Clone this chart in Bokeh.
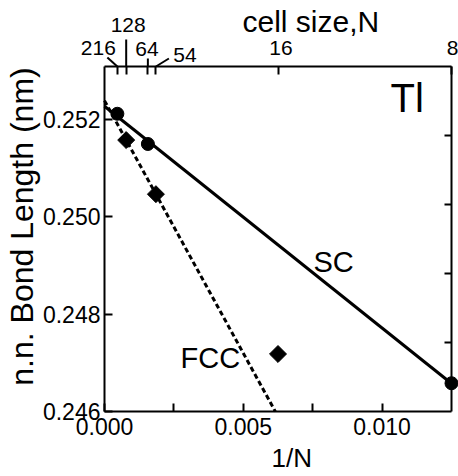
import numpy as np
from bokeh.plotting import figure
from bokeh.models import Range1d, LinearAxis, FixedTicker, Label, PrintfTickFormatter
from bokeh.embed import file_html
from bokeh.resources import INLINE

# ---- data ----
sc_N = [216, 64, 8]
sc_bond = [0.25211, 0.25149, 0.24658]
fcc_N = [128, 54, 16]
fcc_bond = [0.25157, 0.25046, 0.24718]
top_N = [216, 128, 64, 54, 16, 8]
top_labels = ["216", "128", "64", "54", "16", "8"]
x_major = [0.0, 0.005, 0.010]
x_minor = [0.0025, 0.0075]
y_major = [0.246, 0.248, 0.250, 0.252]

X_SCALE = 0.1  # 1/N axis value per cell size N
sc_x = [X_SCALE / n for n in sc_N]
fcc_x = [X_SCALE / n for n in fcc_N]
top_x = [X_SCALE / n for n in top_N]

XMIN, XMAX = 0.0, 0.0125
YMIN, YMAX = 0.246, 0.25308
FONT = "Liberation Sans"
MID = 0.36  # baseline-to-middle distance, in em

# canvas geometry: the plot box sits inside a frame that covers the whole canvas
W, H = 458, 476
PX_L, PX_R, PX_T, PX_B = 104, 451, 66, 411
kx = (XMAX - XMIN) / (PX_R - PX_L)
ky = (YMAX - YMIN) / (PX_B - PX_T)
x_start = XMIN - PX_L * kx
x_end = XMAX + (W - PX_R) * kx
y_start = YMIN - (H - PX_B) * ky
y_end = YMAX + PX_T * ky

# linear fits
sc_m, sc_b = np.polyfit(sc_x, sc_bond, 1)
sc_fx = np.array([XMIN, max(sc_x)])
sc_fy = sc_m * sc_fx + sc_b
fcc_m, fcc_b = np.polyfit(fcc_x[:2], fcc_bond[:2], 1)
fcc_fx = np.array([XMIN, (YMIN - fcc_b) / fcc_m])
fcc_fy = fcc_m * fcc_fx + fcc_b

p = figure(width=W, height=H, x_range=Range1d(x_start, x_end), y_range=Range1d(y_start, y_end),
           output_backend="svg", toolbar_location=None, title=None,
           x_axis_location=None, y_axis_location=None,
           min_border=0, min_border_left=0, min_border_right=0, min_border_top=0, min_border_bottom=0)
p.xgrid.visible = False
p.ygrid.visible = False
p.outline_line_color = None
p.background_fill_color = "white"
p.border_fill_color = "white"


def style_axis(ax, tick_in):
    ax.axis_line_color = "black"
    ax.axis_line_width = 2
    ax.major_tick_line_color = "black"
    ax.major_tick_line_width = 2
    ax.major_tick_in = tick_in
    ax.major_tick_out = 0
    ax.minor_tick_line_color = "black"
    ax.minor_tick_line_width = 2
    ax.minor_tick_in = tick_in
    ax.minor_tick_out = 0
    ax.major_label_text_font = FONT
    ax.major_label_text_color = "black"


fmt = PrintfTickFormatter(format="%.3f")

bottom = LinearAxis(fixed_location=YMIN, bounds=(XMIN, XMAX),
                    ticker=FixedTicker(ticks=x_major, minor_ticks=x_minor), formatter=fmt)
style_axis(bottom, 8)
bottom.major_label_text_font_size = "23px"
bottom.major_label_standoff = 6
p.add_layout(bottom, "below")

left = LinearAxis(fixed_location=XMIN, bounds=(YMIN, YMAX), ticker=FixedTicker(ticks=y_major), formatter=fmt)
style_axis(left, 8)
left.minor_tick_line_color = None
left.major_label_text_font_size = "23px"
left.major_label_standoff = 4
p.add_layout(left, "left")

top = LinearAxis(fixed_location=YMAX, bounds=(XMIN, XMAX), ticker=FixedTicker(ticks=top_x))
style_axis(top, 8)
top.minor_tick_line_color = None
top.major_label_text_color = None
top.major_label_text_font_size = "1px"
p.add_layout(top, "above")

right_ticks = [YMIN + k * (YMAX - YMIN) / 5 for k in range(1, 5)]
right = LinearAxis(fixed_location=XMAX, bounds=(YMIN, YMAX), ticker=FixedTicker(ticks=right_ticks))
style_axis(right, 7)
right.minor_tick_line_color = None
right.major_label_text_color = None
right.major_label_text_font_size = "1px"
p.add_layout(right, "right")

# fit lines
p.line(sc_fx, sc_fy, line_color="black", line_width=3)
p.line(fcc_fx, fcc_fy, line_color="black", line_width=3, line_dash="5 3")

# points
p.scatter(sc_x, sc_bond, marker="circle", size=13, color="black")
p.scatter(fcc_x, fcc_bond, marker="square", angle=np.pi / 4, size=12, color="black")


def text(px, py, s, size, rotated=False, **kw):
    # px, py: canvas pixels from top-left of the text's baseline start (or baseline centre)
    if rotated:
        px = px - MID * size
        kw["angle"] = np.pi / 2
    else:
        py = py - MID * size
    p.add_layout(Label(x=px, y=H - py, x_units="screen", y_units="screen", text=s,
                       text_font=FONT, text_font_size=f"{size}px", text_color="black",
                       text_baseline="middle", **kw))


text(313, 272, "SC", 29)
text(180, 368, "FCC", 29)
text(390, 112, "Tl", 40)
text(33, 226, "n.n. Bond Length (nm)", 32, rotated=True, text_align="center")
text(271, 467, "1/N", 26)
text(242, 32, "cell size,N", 30)

# top tick labels and leader lines
TOP_SIZE = 21
label_dx = [-19, 2, -1, 29, 3, 1]
label_base = [55, 32, 56, 62, 55, 55]
for xv, txt, dx, base in zip(top_x, top_labels, label_dx, label_base):
    p.add_layout(Label(x=xv, y=H - (base - MID * TOP_SIZE), y_units="screen", x_offset=dx, text=txt,
                       text_align="center", text_baseline="middle",
                       text_font=FONT, text_font_size=f"{TOP_SIZE}px", text_color="black"))

leader_dx = [-10, 0, 0, 13]
leader_dy = [9, 27, 8, 8]
lx0 = top_x[:4]
lx1 = [xv + d * kx for xv, d in zip(lx0, leader_dx)]
ly0 = [YMAX] * 4
ly1 = [YMAX + d * ky for d in leader_dy]
p.segment(lx0, ly0, lx1, ly1, line_color="black", line_width=2)

open("out.html", "w").write(file_html(p, INLINE))
